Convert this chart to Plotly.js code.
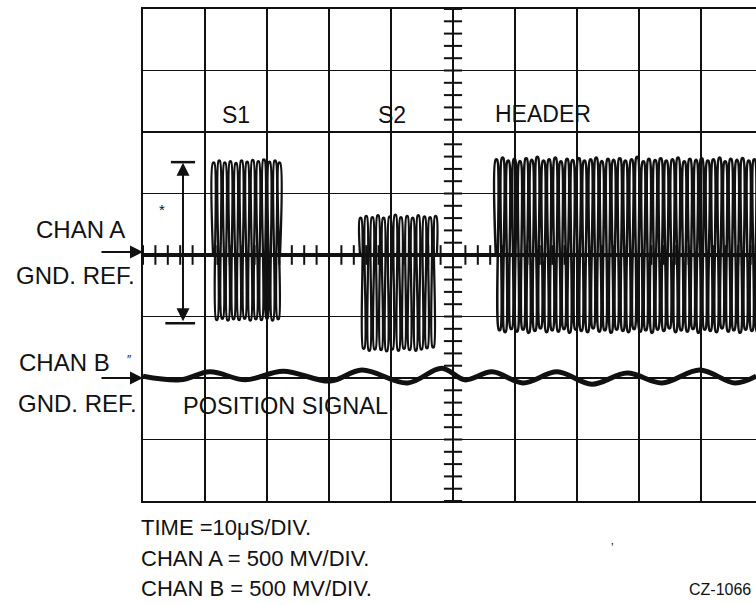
<!DOCTYPE html>
<html>
<head>
<meta charset="utf-8">
<script src="https://cdn.plot.ly/plotly-3.0.1.min.js"></script>
<style>html,body{margin:0;padding:0;background:#fff;overflow:hidden}</style>
</head>
<body>
<div id="chart" style="width:756px;height:605px"></div>
<script>
// ---- data (screen divisions: x = time div, y = vertical div, 0 = bottom) ----
var chanABase = 4.0;           // CHAN A ground reference level
var chanBBase = 2.0;           // CHAN B ground reference level

// S1 burst: turning points of the trace
var s1X = [1.13, 1.14, 1.19, 1.23, 1.28, 1.32, 1.37, 1.41, 1.46, 1.50, 1.55, 1.59, 1.64, 1.68,
           1.73, 1.77, 1.82, 1.86, 1.91, 1.95, 2.00, 2.04, 2.09, 2.13, 2.18, 2.20, 2.21];
var s1Top = [5.50, 5.53, 5.50, 5.52, 5.49, 5.53, 5.51, 5.54, 5.52, 5.55, 5.51, 5.53, 5.50];
var s1Bot = [2.95, 2.97, 2.94, 2.96, 2.95, 2.97, 2.94, 2.96, 2.95, 2.97, 2.94, 2.96];

// S2 burst
var s2X = [3.50, 3.51, 3.56, 3.60, 3.65, 3.70, 3.74, 3.79, 3.84, 3.88, 3.93, 3.98, 4.02, 4.07,
           4.12, 4.16, 4.21, 4.26, 4.30, 4.35, 4.40, 4.44, 4.49, 4.54, 4.58, 4.63, 4.68, 4.72, 4.74];
var s2Top = [4.60, 4.63, 4.61, 4.64, 4.60, 4.62, 4.65, 4.61, 4.63, 4.60, 4.64, 4.62, 4.61, 4.63];
var s2Bot = [2.48, 2.45, 2.47, 2.46, 2.44, 2.47, 2.45, 2.48, 2.46, 2.45, 2.47, 2.49, 2.50];

// HEADER burst
var hdrX = [5.69, 5.70, 5.75, 5.80, 5.84, 5.89, 5.94, 5.99, 6.03, 6.08, 6.13, 6.18, 6.22, 6.27,
            6.32, 6.36, 6.41, 6.46, 6.51, 6.55, 6.60, 6.65, 6.70, 6.74, 6.79, 6.84, 6.88, 6.93,
            6.98, 7.03, 7.07, 7.12, 7.17, 7.22, 7.26, 7.31, 7.36, 7.40, 7.45, 7.50, 7.55, 7.59,
            7.64, 7.69, 7.74, 7.78, 7.83, 7.88, 7.92, 7.97, 8.02, 8.07, 8.11, 8.16, 8.21, 8.26,
            8.30, 8.35, 8.40, 8.44, 8.49, 8.54, 8.59, 8.63, 8.68, 8.73, 8.78, 8.82, 8.87, 8.92,
            8.96, 9.01, 9.06, 9.11, 9.15, 9.20, 9.25, 9.30, 9.34, 9.39, 9.44, 9.48, 9.53, 9.58,
            9.63, 9.67, 9.72, 9.77, 9.82, 9.86, 9.91];
var hdrTop = [5.55, 5.58, 5.53, 5.56, 5.52, 5.57, 5.54, 5.59, 5.53, 5.55, 5.58, 5.52, 5.56, 5.54, 5.57,
              5.53, 5.55, 5.58, 5.52, 5.56, 5.54, 5.57, 5.53, 5.55, 5.59, 5.52, 5.56, 5.54, 5.57, 5.53,
              5.55, 5.58, 5.52, 5.56, 5.54, 5.57, 5.53, 5.55, 5.58, 5.52, 5.56, 5.54, 5.57, 5.53, 5.55];
var hdrBot = [2.78, 2.75, 2.80, 2.76, 2.79, 2.74, 2.77, 2.81, 2.75, 2.78, 2.76, 2.80, 2.74, 2.79, 2.77,
              2.75, 2.81, 2.76, 2.78, 2.74, 2.79, 2.77, 2.75, 2.80, 2.76, 2.78, 2.74, 2.79, 2.77, 2.81,
              2.75, 2.78, 2.76, 2.80, 2.74, 2.79, 2.77, 2.75, 2.81, 2.76, 2.78, 2.74, 2.79, 2.77, 2.76];

// CHAN B position signal: crest / trough points
var chanBX = [0.00, 0.60, 1.08, 1.65, 2.26, 3.02, 3.53, 4.27, 4.82, 5.19, 5.63, 6.13, 6.68, 7.24,
              7.81, 8.37, 8.98, 9.55, 9.89];
var chanBY = [2.03, 1.97, 2.10, 1.97, 2.11, 1.95, 2.13, 1.92, 2.16, 1.97, 2.10, 1.92, 2.10, 1.90,
              2.08, 1.92, 2.13, 1.92, 2.03];

// text
var burstLabels = ["S1", "S2", "HEADER"];
var scaleLines = ["TIME =10\u03bcS/DIV.", "CHAN A = 500 MV/DIV.", "CHAN B = 500 MV/DIV."];
var figId = "CZ-1066";

// ---- build ----
var INK = "#111";
var LOOP = 0.011;   // half-width of the rounded loop at each turning point (style)
function burst(xs, tops, bots, base, closed) {
  var ox = [], oy = [];
  xs.forEach(function (x, i) {
    if (i === 0 || (closed && i === xs.length - 1)) { ox.push(x); oy.push(base); return; }
    var v = (i % 2) ? tops[(i - 1) / 2] : bots[i / 2 - 1];
    ox.push(x - LOOP, x + LOOP); oy.push(v, v);
  });
  return {x: ox, y: oy};
}
var XMAX = 613 / 62;

var traces = [];
// CHAN A baseline
traces.push({x: [0, XMAX], y: [chanABase, chanABase], mode: "lines",
  line: {color: INK, width: 4}, hoverinfo: "skip", showlegend: false});
// bursts
[[s1X, s1Top, s1Bot, true, 2.3], [s2X, s2Top, s2Bot, true, 2.3], [hdrX, hdrTop, hdrBot, false, 2.5]].forEach(function (b) {
  var p = burst(b[0], b[1], b[2], chanABase, b[3]);
  traces.push({x: p.x, y: p.y, mode: "lines",
    line: {color: INK, width: b[4], shape: "spline", smoothing: 1},
    hoverinfo: "skip", showlegend: false});
});
// CHAN B
traces.push({x: chanBX, y: chanBY, mode: "lines",
  line: {color: INK, width: 5, shape: "spline", smoothing: 1}, hoverinfo: "skip", showlegend: false});

// graticule centre-line minor ticks
var tx = [], ty = [];
for (var k = 0; k <= 49; k++) { tx.push(k * 0.2); }
for (var j = 0; j <= 40; j++) { ty.push(j * 0.2); }
traces.push({x: tx, y: tx.map(function () { return chanABase; }), mode: "markers",
  marker: {symbol: "line-ns-open", size: 14, color: INK, line: {color: INK, width: 2}},
  hoverinfo: "skip", showlegend: false});
traces.push({x: ty.map(function () { return 5; }), y: ty, mode: "markers",
  marker: {symbol: "line-ew-open", size: 13, color: INK, line: {color: INK, width: 2}},
  hoverinfo: "skip", showlegend: false});

function px2paperX(px) { return (px - 143) / 613; }
function px2paperY(py) { return (501 - py) / 492; }
var F = "Liberation Sans, Arial, sans-serif";
function lab(text, px, py, xanchor, size) {
  return {text: text, xref: "paper", yref: "paper", x: px2paperX(px), y: px2paperY(py),
    xanchor: xanchor, yanchor: "middle", showarrow: false,
    font: {family: F, size: size || 24, color: INK}};
}
var ann = [
  lab("CHAN A", 127, 229, "right"),
  lab("GND. REF.", 137, 275, "right"),
  lab("CHAN B", 112, 362, "right"),
  lab("\u2033", 129, 360, "center", 12),
  lab("GND. REF.", 139, 403, "right"),
  lab(scaleLines[0], 139, 527, "left", 22),
  lab(scaleLines[1], 139, 558, "left", 22),
  lab(scaleLines[2], 139, 588, "left", 22),
  lab(figId, 753, 589, "right", 16),
  lab("\u02bc", 612, 548, "center", 12),
  {text: burstLabels[0], x: 1.5, y: 6.28, xref: "x", yref: "y", showarrow: false,
    font: {family: F, size: 23, color: INK}},
  {text: burstLabels[1], x: 4.02, y: 6.28, xref: "x", yref: "y", showarrow: false,
    font: {family: F, size: 23, color: INK}},
  {text: burstLabels[2], x: 6.45, y: 6.3, xref: "x", yref: "y", showarrow: false,
    font: {family: F, size: 23, color: INK}},
  {text: "POSITION SIGNAL", x: 0.62, y: 1.54, xref: "x", yref: "y", xanchor: "left", showarrow: false,
    font: {family: F, size: 23.5, color: INK}},
  {text: "*", x: 0.31, y: 4.74, xref: "x", yref: "y", showarrow: false,
    font: {family: F, size: 15, color: INK}},
  // ground reference arrows
  {text: "", xref: "paper", yref: "paper", x: 0, y: px2paperY(252), ax: -43, ay: 0,
    showarrow: true, arrowhead: 2, arrowsize: 1.3, arrowwidth: 2, arrowcolor: INK},
  {text: "", xref: "paper", yref: "paper", x: 0, y: px2paperY(378), ax: -43, ay: 0,
    showarrow: true, arrowhead: 2, arrowsize: 1.3, arrowwidth: 2, arrowcolor: INK},
  // amplitude double arrow
  {text: "", xref: "x", yref: "y", axref: "x", ayref: "y", x: 0.645, y: 5.50, ax: 0.645, ay: 2.90,
    showarrow: true, arrowhead: 2, arrowside: "end+start", startarrowhead: 2,
    arrowsize: 1.3, startarrowsize: 1.3, arrowwidth: 2, arrowcolor: INK}
];

var shapes = [
  {type: "line", xref: "x", yref: "y", x0: 0.45, x1: 0.84, y0: 5.51, y1: 5.51, line: {color: INK, width: 2.5}},
  {type: "line", xref: "x", yref: "y", x0: 0.36, x1: 0.84, y0: 2.89, y1: 2.89, line: {color: INK, width: 2.5}}
];

var layout = {
  width: 756, height: 605,
  margin: {l: 143, r: 0, t: 9, b: 104, pad: 0},
  paper_bgcolor: "#fff", plot_bgcolor: "#fff",
  showlegend: false,
  xaxis: {range: [0, XMAX], dtick: 1, tick0: 0, showgrid: true, gridcolor: INK, gridwidth: 1.6,
    zeroline: false, showticklabels: false, ticks: "", showline: true, linecolor: INK,
    linewidth: 2, mirror: true, fixedrange: true},
  yaxis: {range: [0, 8], dtick: 1, tick0: 0, showgrid: true, gridcolor: INK, gridwidth: 1.6,
    zeroline: false, showticklabels: false, ticks: "", showline: true, linecolor: INK,
    linewidth: 2, mirror: false, fixedrange: true},
  annotations: ann,
  shapes: shapes
};
Plotly.newPlot("chart", traces, layout, {staticPlot: true, displayModeBar: false});
</script>
</body>
</html>
